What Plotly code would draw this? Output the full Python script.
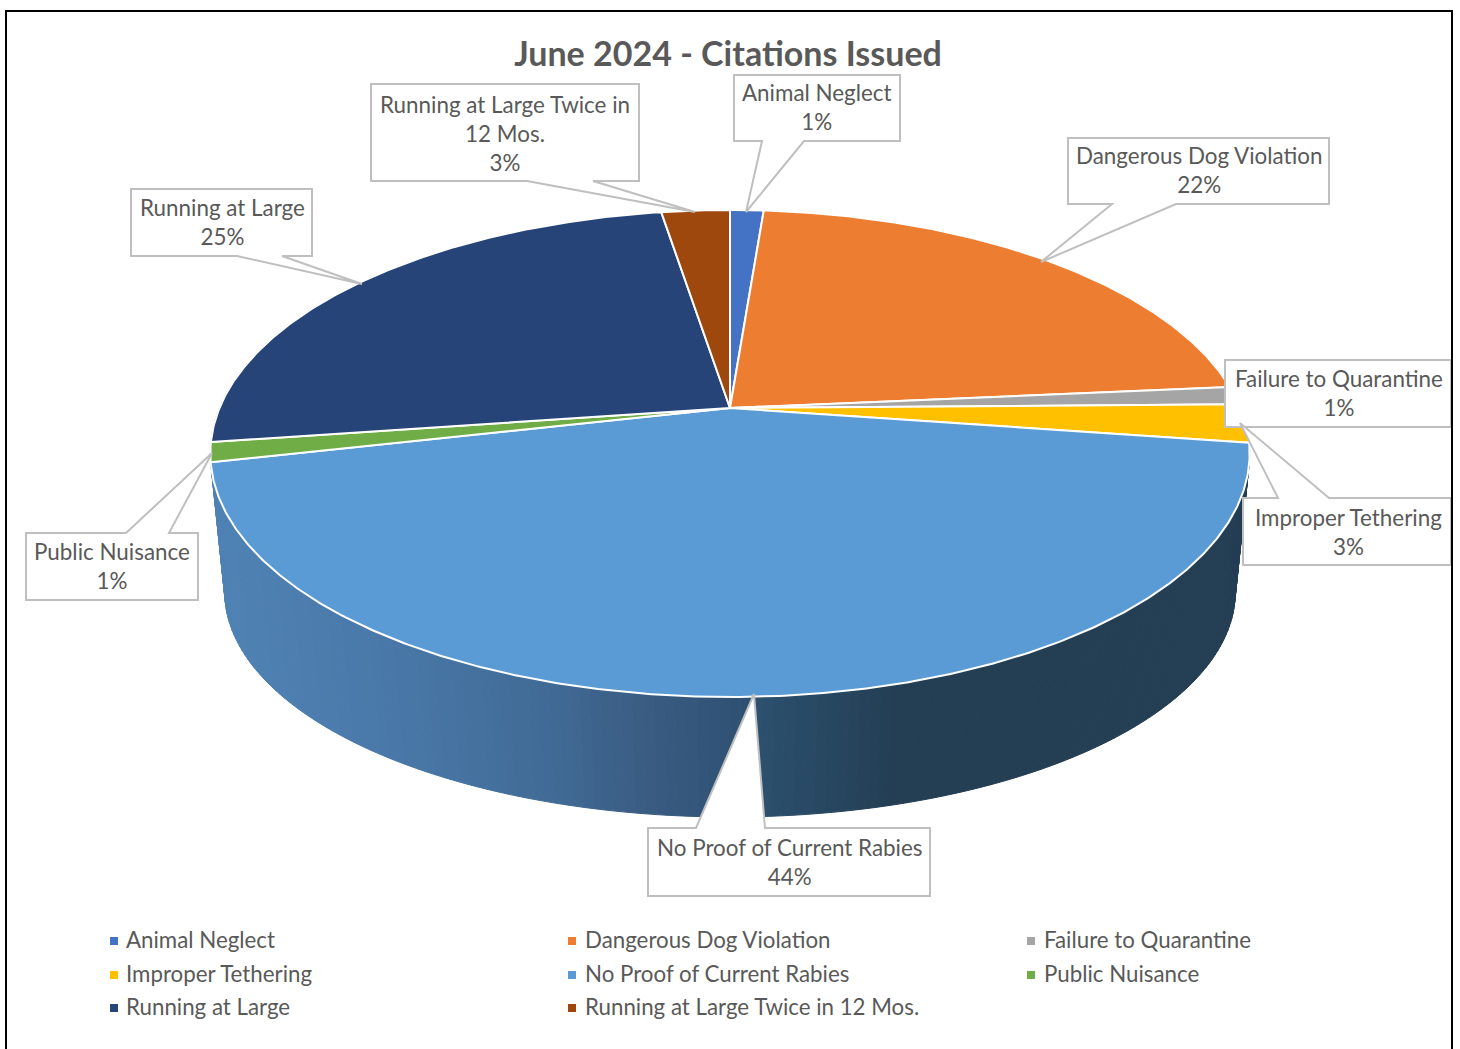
import numpy as np
import plotly.graph_objects as go

# ---- data ----
categories = ["Animal Neglect", "Dangerous Dog Violation", "Failure to Quarantine",
              "Improper Tethering", "No Proof of Current Rabies", "Public Nuisance",
              "Running at Large", "Running at Large Twice in 12 Mos."]
shares = [1.25, 22.3, 1.2, 2.55, 44.15, 1.3, 24.7, 2.55]
colors = ["#4472C4", "#ED7D31", "#A5A5A5", "#FFC000", "#5B9BD5", "#70AD47", "#264478", "#9E480E"]
title_text = "June 2024 - Citations Issued"

# ---- projection of the tilted disc (page pixels) ----
CX = 730
TOP = dict(cy=408, a=510.5, b=235, k=0.1868)
BASE = dict(cy=551.5, a=497, b=217.7, k=0.18)


def project(theta, d):
    u, v = np.sin(theta), -np.cos(theta)
    w = 1 - d["k"] * v
    return CX + d["a"] * u / w, d["cy"] + d["b"] * v / w


fig = go.Figure()

# side wall with horizontal gradient
stops_x = [215, 400, 550, 650, 720, 760, 900, 1250]
stops_rgb = np.array([(80, 131, 181), (73, 120, 168), (65, 107, 150), (58, 92, 130),
                      (50, 84, 120), (44, 80, 110), (36, 62, 84), (36, 62, 84)])
edges = np.radians(np.linspace(60, 300, 241))
for t0, t1 in zip(edges[:-1], edges[1:]):
    tt = np.array([t0, t1])
    xa, ya = project(tt, TOP)
    xb, yb = project(tt, BASE)
    xm = (xa.mean() + xb.mean()) / 2
    rgb = [np.interp(xm, stops_x, stops_rgb[:, i]) for i in range(3)]
    col = "rgb(%d,%d,%d)" % tuple(rgb)
    fig.add_trace(go.Scatter(x=[xa[0], xa[1], xb[1], xb[0], xa[0]], y=[ya[0], ya[1], yb[1], yb[0], ya[0]],
                             mode="lines", fill="toself", fillcolor=col, line=dict(color=col, width=1),
                             hoverinfo="skip", showlegend=False))

# top face slices
cum = np.cumsum([0] + shares) / sum(shares) * 2 * np.pi
for i, name in enumerate(categories):
    th = np.linspace(cum[i], cum[i + 1], max(3, int(shares[i] * 8)))
    xs, ys = project(th, TOP)
    fig.add_trace(go.Scatter(x=np.r_[CX, xs, CX], y=np.r_[TOP["cy"], ys, TOP["cy"]],
                             mode="lines", fill="toself", fillcolor=colors[i],
                             line=dict(color="white", width=2), name=name, showlegend=False,
                             hovertemplate=f"{name}: {round(shares[i])}%<extra></extra>"))

# callouts: (box x0, y0, x1, y1), tail base x pair on edge y, tip, text centre
callouts = [
    (0, (734, 75, 900, 141), (762, 804, 141), (746, 212), (817, 107)),
    (1, (1068, 138, 1329, 204), (1112, 1176, 204), (1041, 262), (1199, 170)),
    (2, (1225, 360, 1451, 427), None, None, (1339, 393)),
    (3, (1243, 498, 1451, 565), (1278, 1329, 498), (1240, 423), (1348, 532)),
    (4, (648, 828, 930, 896), (696, 765, 828), (754, 694), (789, 862)),
    (5, (26, 533, 198, 600), (126, 169, 533), (212, 453), (112, 566)),
    (6, (131, 189, 312, 256), (237, 282, 256), (362, 284), (222, 222)),
    (7, (371, 84, 639, 181), (527, 593, 181), (695, 212), (505, 133)),
]
shapes = []
annotations = []
for i, (x0, y0, x1, y1), tail, tip, c in callouts:
    if tail is None:
        path = f"M{x0},{y0} L{x1},{y0} L{x1},{y1} L{x0},{y1} Z"
    elif tail[2] == y1:
        path = (f"M{x0},{y0} L{x1},{y0} L{x1},{y1} L{tail[1]},{y1} L{tip[0]},{tip[1]} "
                f"L{tail[0]},{y1} L{x0},{y1} Z")
    else:
        path = (f"M{x0},{y0} L{tail[0]},{y0} L{tip[0]},{tip[1]} L{tail[1]},{y0} "
                f"L{x1},{y0} L{x1},{y1} L{x0},{y1} Z")
    shapes.append(dict(type="path", path=path, xref="x", yref="y", fillcolor="white",
                       line=dict(color="#BFBFBF", width=2), layer="above"))
    name = categories[i]
    if name.endswith("12 Mos."):
        name = name.replace(" 12 Mos.", "<br>12 Mos.")
    annotations.append(dict(x=c[0], y=c[1], xref="x", yref="y", showarrow=False, align="center",
                            text=f"{name}<br>{round(shares[i])}%",
                            font=dict(family="Lato", size=22.4, color="#595959")))

# key below the pie, three columns
key_cols = [(114, 124), (572, 583), (1031, 1042)]
key_rows = [941, 975, 1008]
for i, name in enumerate(categories):
    mx, tx = key_cols[i % 3]
    ky = key_rows[i // 3]
    fig.add_trace(go.Scatter(x=[mx], y=[ky], mode="markers", name=name, showlegend=False, hoverinfo="skip",
                             marker=dict(symbol="square", size=8, color=colors[i])))
    annotations.append(dict(x=tx, y=ky - 2, xref="x", yref="y", xanchor="left", showarrow=False, text=name,
                            font=dict(family="Lato", size=22.3, color="#595959")))

# outer frame
shapes.append(dict(type="rect", x0=6, y0=11, x1=1452, y1=1070, xref="x", yref="y",
                   line=dict(color="black", width=2), layer="above"))

fig.update_layout(
    width=1460, height=1049, margin=dict(l=0, r=0, t=0, b=0),
    paper_bgcolor="white", plot_bgcolor="white",
    xaxis=dict(range=[0, 1460], visible=False, fixedrange=True),
    yaxis=dict(range=[1049, 0], visible=False, fixedrange=True),
    title=dict(text=f"<b>{title_text}</b>", x=728 / 1460, xanchor="center", y=1 - 54 / 1049, yanchor="middle",
               font=dict(family="Lato", size=34, color="#595959")),
    shapes=shapes, annotations=annotations,
    showlegend=False,
)
fig.write_html("out.html", config=dict(displayModeBar=False),
               post_script="document.body.style.margin='0';document.body.style.overflow='hidden';")
